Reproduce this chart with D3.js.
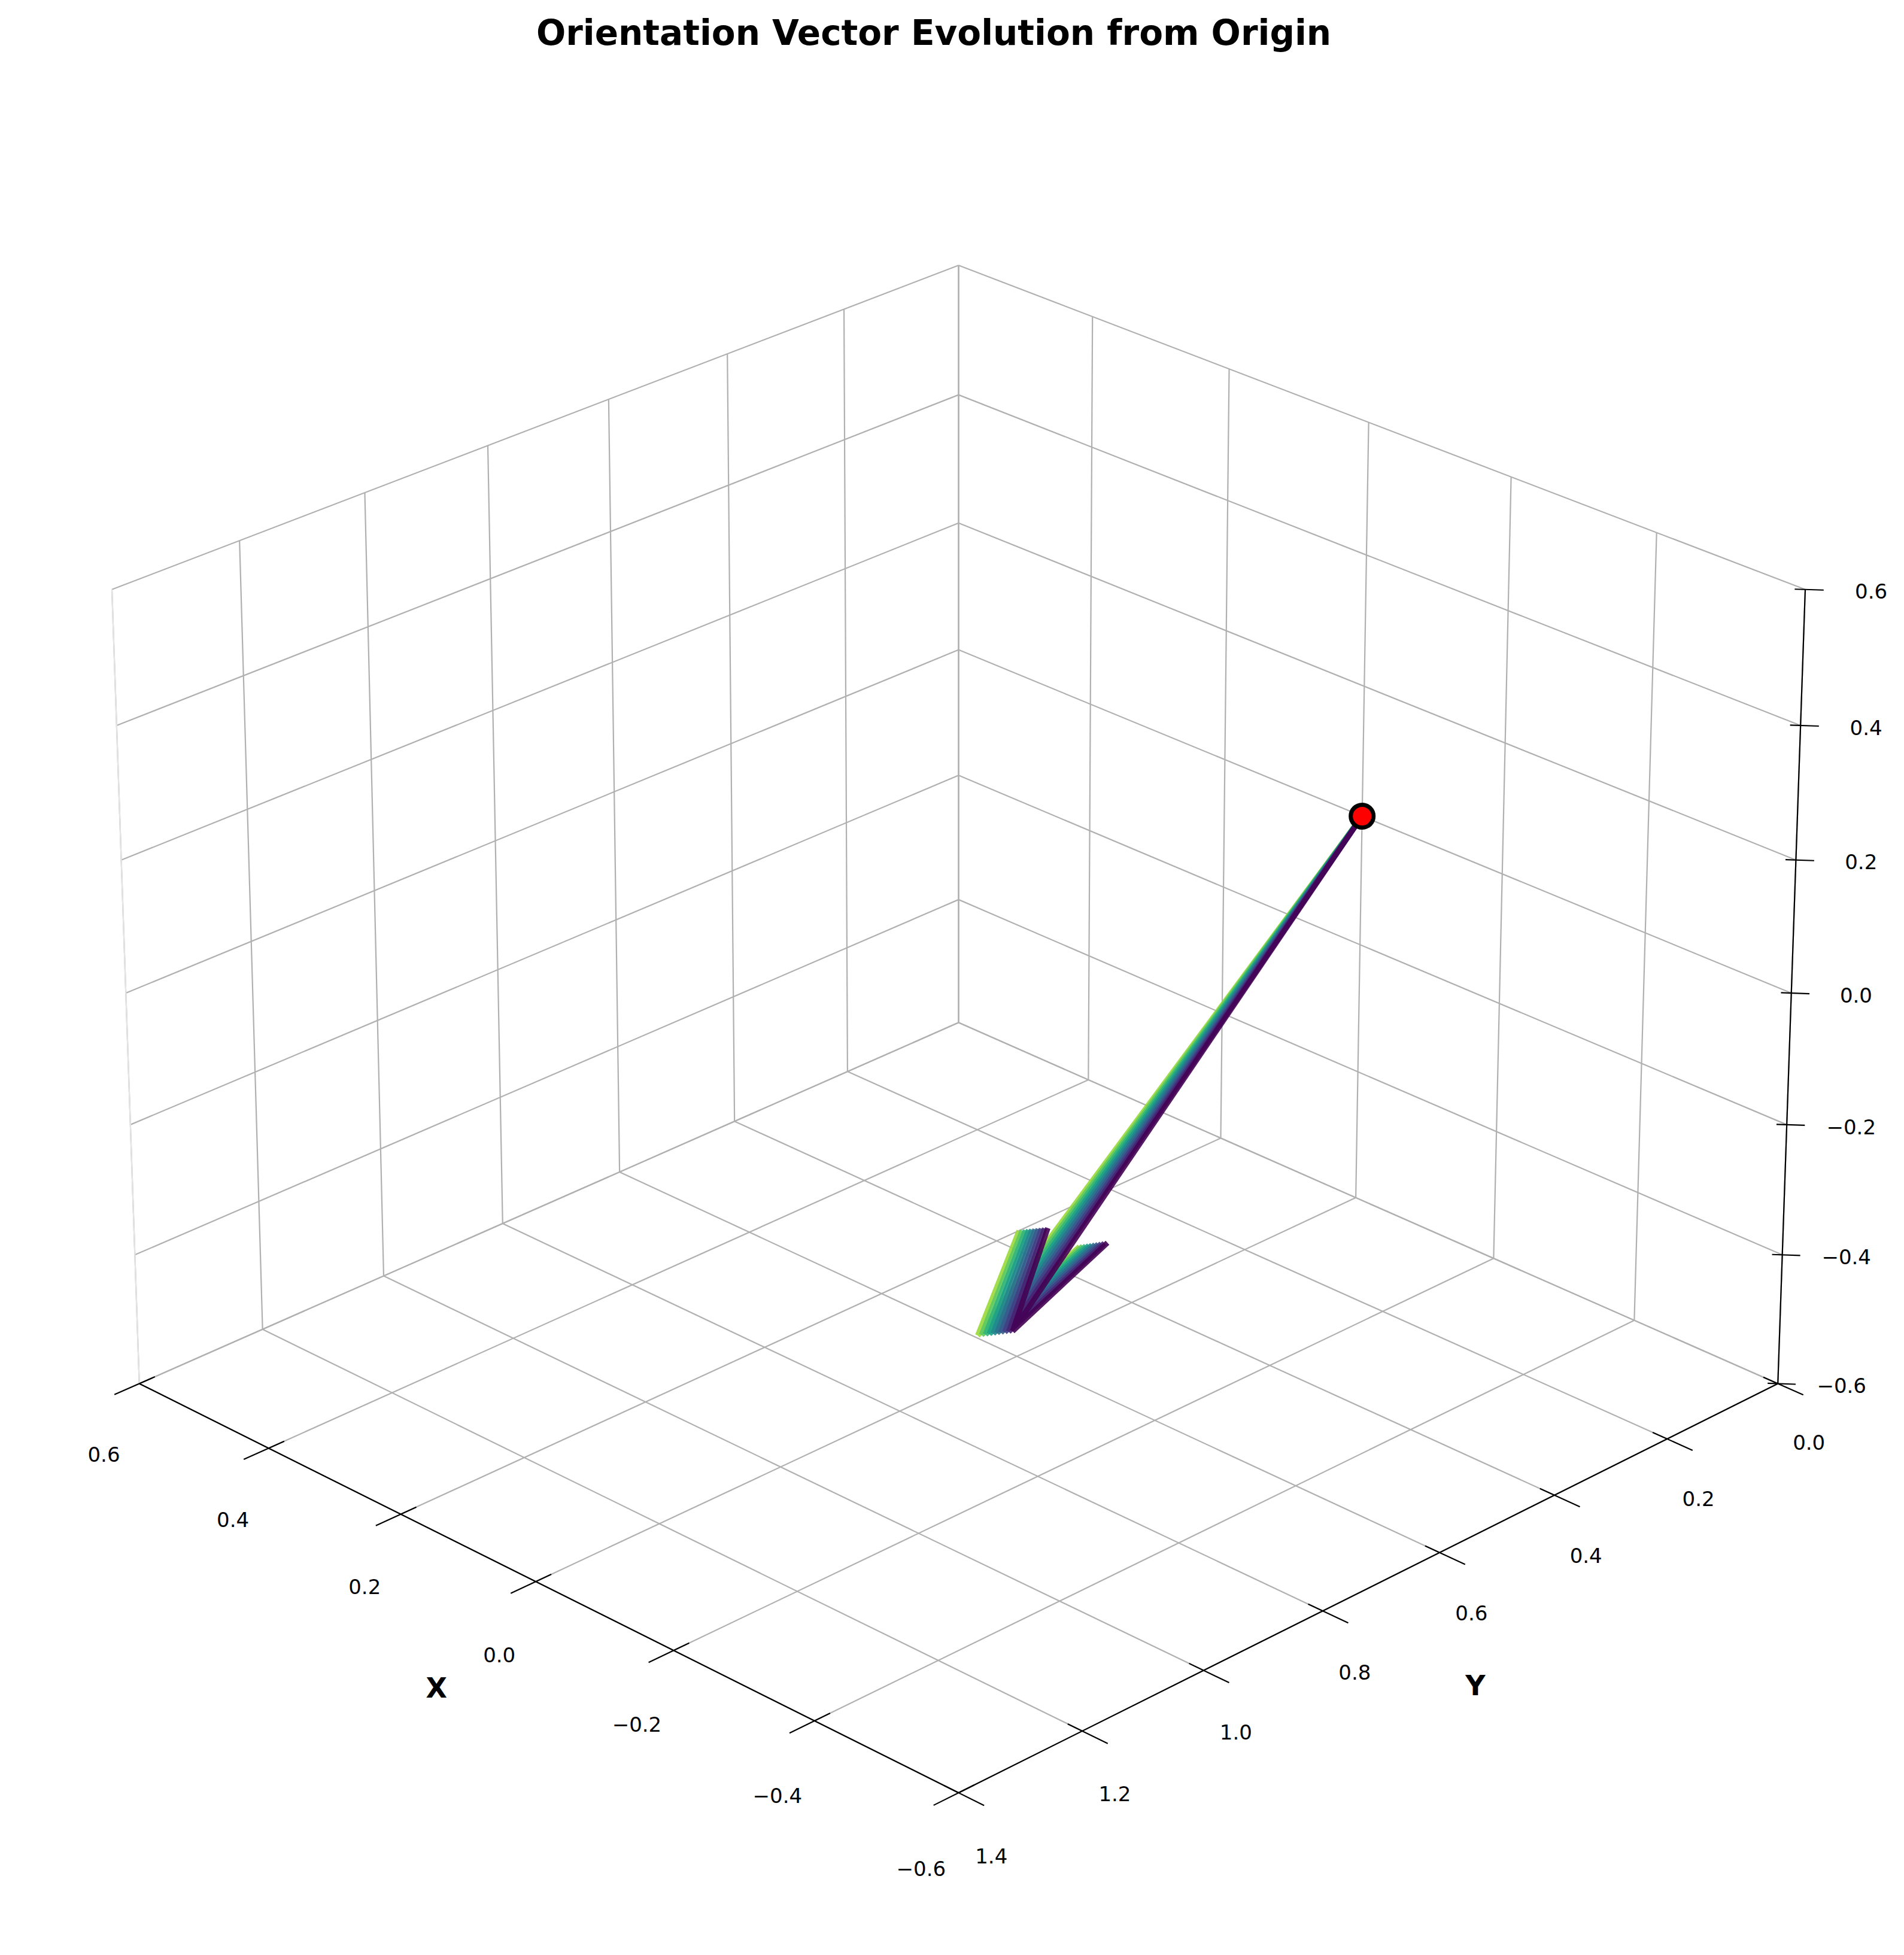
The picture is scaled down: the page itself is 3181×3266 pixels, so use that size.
<!DOCTYPE html>
<html><head><meta charset="utf-8">
<script src="https://cdn.jsdelivr.net/npm/d3@7"></script>
<style>body{margin:0;background:#fff}</style>
</head><body><div id="chart"></div>
<script>
// data
const xTicks = [-0.6, -0.4, -0.2, 0.0, 0.2, 0.4, 0.6];
const yTicks = [0.0, 0.2, 0.4, 0.6, 0.8, 1.0, 1.2, 1.4];
const zTicks = [-0.6, -0.4, -0.2, 0.0, 0.2, 0.4, 0.6];
const steps = [0, 1, 2, 3, 4, 5, 6, 7, 8, 9];
const vecX = [-0.35, -0.348, -0.346, -0.344, -0.342, -0.34, -0.338, -0.336, -0.334, -0.332];
const vecY = [1.02, 1.024, 1.028, 1.032, 1.036, 1.04, 1.044, 1.048, 1.052, 1.056];
const vecZ = [-0.21, -0.21, -0.21, -0.21, -0.21, -0.21, -0.21, -0.21, -0.21, -0.21];

const W = 3181, H = 3266;
const svg = d3.select("#chart").append("svg").attr("width", W).attr("height", H);

// simple perspective camera, matplotlib-like view
const azim = 135 * Math.PI / 180, elev = 26 * Math.PI / 180, D = 20;
const hz = 0.75;
const nx = d3.scaleLinear().domain([-0.6, 0.6]).range([-1, 1]);
const ny = d3.scaleLinear().domain([0, 1.4]).range([-1, 1]);
const nz = d3.scaleLinear().domain([-0.6, 0.6]).range([-hz, hz]);
const eye = [Math.cos(elev) * Math.cos(azim), Math.cos(elev) * Math.sin(azim), Math.sin(elev)];
const rv = [-Math.sin(azim), Math.cos(azim), 0];
const uv = [-Math.sin(elev) * Math.cos(azim), -Math.sin(elev) * Math.sin(azim), Math.cos(elev)];
const dot = (a, b) => a[0] * b[0] + a[1] * b[1] + a[2] * b[2];
function raw(x, y, z) {
  const n = [nx(x), ny(y), nz(z)];
  const f = D / (D - dot(n, eye));
  return [dot(n, rv) * f, -dot(n, uv) * f];
}
// fit the box into the frame
const corners = [];
[-0.6, 0.6].forEach(x => [0, 1.4].forEach(y => [-0.6, 0.6].forEach(z => corners.push(raw(x, y, z)))));
const minX = d3.min(corners, c => c[0]), maxX = d3.max(corners, c => c[0]);
const maxY = d3.max(corners, c => c[1]);
const s = 2829 / (maxX - minX);
const ox = 187 - minX * s, oy = 2995 - maxY * s;
const P = (x, y, z) => { const r = raw(x, y, z); return [ox + r[0] * s, oy + r[1] * s]; };
const line = (a, b) => svg.append("line").attr("x1", a[0]).attr("y1", a[1]).attr("x2", b[0]).attr("y2", b[1]);

// grid
const gl = (a, b) => line(a, b).attr("stroke", "#b0b0b0").attr("stroke-width", 2.2);
xTicks.forEach(x => { gl(P(x, 0, -0.6), P(x, 1.4, -0.6)); gl(P(x, 0, -0.6), P(x, 0, 0.6)); });
yTicks.forEach(y => { gl(P(-0.6, y, -0.6), P(0.6, y, -0.6)); gl(P(0.6, y, -0.6), P(0.6, y, 0.6)); });
zTicks.forEach(z => { gl(P(0.6, 0, z), P(0.6, 1.4, z)); gl(P(-0.6, 0, z), P(0.6, 0, z)); });
line(P(0.6, 1.4, -0.6), P(0.6, 1.4, 0.6)).attr("stroke", "#e6e6e6").attr("stroke-width", 2);

// axes
const ax = (a, b) => line(a, b).attr("stroke", "#000").attr("stroke-width", 2.2);
ax(P(-0.6, 1.4, -0.6), P(0.6, 1.4, -0.6));
ax(P(-0.6, 0, -0.6), P(-0.6, 1.4, -0.6));
ax(P(-0.6, 0, -0.6), P(-0.6, 0, 0.6));
const fmt = v => d3.format(".1f")(v).replace("-", "\u2212");
const label = (p, t, size, weight) => svg.append("text").attr("x", p[0]).attr("y", p[1])
  .attr("text-anchor", "middle").attr("dominant-baseline", "central")
  .attr("font-family", "DejaVu Sans").attr("font-size", size).attr("font-weight", weight || "normal").text(t);

xTicks.forEach(x => {
  ax(P(x, 1.4 - 0.025, -0.6), P(x, 1.4 + 0.04, -0.6));
  label(P(x, 1.4 + 0.06, -0.6 - 0.085), fmt(x), 34);
});
yTicks.forEach(y => {
  ax(P(-0.6 + 0.02, y, -0.6), P(-0.6 - 0.035, y, -0.6));
  label(P(-0.6 - 0.045, y, -0.6 - 0.07), fmt(y), 34);
});
zTicks.forEach(z => {
  ax(P(-0.6 + 0.008, 0.008, z), P(-0.6 - 0.014, -0.014, z));
  label(P(-0.6 - 0.05, -0.05, z), fmt(z), 34);
});
label(P(0, 1.4 + 0.16, -0.6 - 0.09), "X", 46, "bold");
label(P(-0.6 - 0.13, 0.7, -0.6 - 0.09), "Y", 46, "bold");

// vectors from origin
const color = i => d3.interpolateViridis(i / (steps.length - 1) * 0.85);
const ratio = 0.18, ang = 10 * Math.PI / 180;
steps.slice().reverse().forEach(i => {
  const v = [vecX[i], vecY[i], vecZ[i]];
  const L = Math.hypot(v[0], v[1], v[2]);
  const d = v.map(c => c / L);
  let p = [d[1], -d[0], 0]; const pl = Math.hypot(p[0], p[1]); p = p.map(c => c / pl);
  const g = svg.append("g").attr("stroke", color(i)).attr("stroke-width", 9)
    .attr("stroke-linecap", "butt").attr("opacity", 0.9);
  const tip = P(v[0], v[1], v[2]);
  const o = P(0, 0, 0);
  g.append("line").attr("x1", o[0]).attr("y1", o[1]).attr("x2", tip[0]).attr("y2", tip[1]);
  [1, -1].forEach(sg => {
    const b = [0, 1, 2].map(k => v[k] - ratio * L * (Math.cos(ang) * d[k] + sg * Math.sin(ang) * p[k]));
    const q = P(b[0], b[1], b[2]);
    g.append("line").attr("x1", tip[0]).attr("y1", tip[1]).attr("x2", q[0]).attr("y2", q[1]);
  });
});
const o = P(0, 0, 0);
svg.append("circle").attr("cx", o[0]).attr("cy", o[1]).attr("r", 19)
  .attr("fill", "red").attr("stroke", "#000").attr("stroke-width", 7);

svg.append("text").attr("x", 1560).attr("y", 75).attr("text-anchor", "middle")
  .attr("font-family", "DejaVu Sans").attr("font-weight", "bold").attr("font-size", 58)
  .text("Orientation Vector Evolution from Origin");
</script></body></html>
